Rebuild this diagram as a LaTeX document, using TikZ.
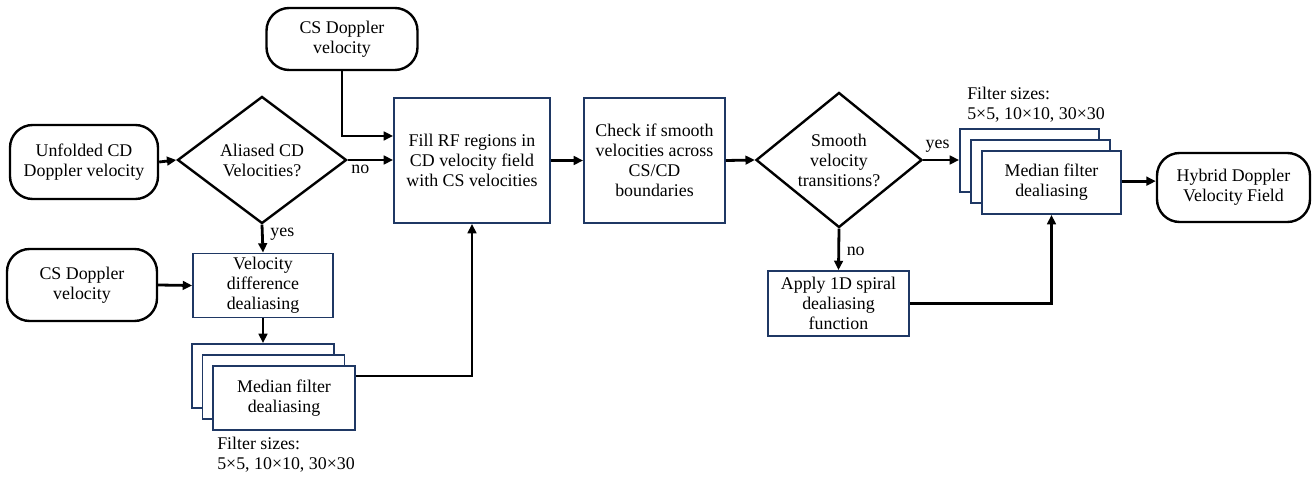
\documentclass[tikz,border=0pt]{standalone}
\usepackage{fontspec}
\setmainfont{Liberation Serif}
\usetikzlibrary{shapes.geometric,arrows.meta}
\definecolor{boxnavy}{RGB}{31,56,100}
\tikzset{
  base/.style={font=\fontsize{13.4}{15}\selectfont, align=center, inner sep=0pt},
  term/.style={base, draw=black, line width=1.8pt, rounded corners=17pt, fill=white},
  decision/.style={base, diamond, draw=black, line width=1.8pt, fill=white},
  proc/.style={base, draw=boxnavy, line width=1.4pt, fill=white},
  arr/.style={line width=2.1pt, -{Triangle[length=7pt,width=6.5pt]}},
  lbl/.style={font=\fontsize{13.4}{15}\selectfont, inner sep=0pt},
  note/.style={font=\fontsize{13.4}{15}\selectfont, align=left, inner sep=0pt, anchor=west}
}
\begin{document}
\begin{tikzpicture}[x=0.75pt,y=-0.75pt]
\useasboundingbox (0,0) rectangle (1315,481);
% terminals
\node[term, minimum width=113.25pt, minimum height=46.5pt] (cstop) at (342,39) {CS Doppler\\velocity};
\node[term, minimum width=111pt, minimum height=55.5pt] (unf) at (84,162) {Unfolded CD\\Doppler velocity};
\node[term, minimum width=112.5pt, minimum height=54pt] (cslow) at (82,285) {CS Doppler\\velocity};
\node[term, minimum width=114.75pt, minimum height=51.75pt] (hyb) at (1233.5,187.5) {Hybrid Doppler\\Velocity Field};
% decisions
\node[decision, minimum width=126.75pt, minimum height=95.25pt] (alias) at (262,160) {Aliased CD\\Velocities?};
\node[decision, minimum width=124.5pt, minimum height=96.75pt] (smooth) at (839,160) {Smooth\\velocity\\transitions?};
% processes
\node[proc, minimum width=117pt, minimum height=93.75pt] (fill) at (472,160.5) {Fill RF regions in\\CD velocity field\\with CS velocities};
\node[proc, minimum width=105.75pt, minimum height=93.75pt] (check) at (654.5,160.5) {Check if smooth\\velocities across\\CS/CD\\boundaries};
\node[proc, minimum width=105pt, minimum height=48pt] (veld) at (263,285.5) {Velocity\\difference\\dealiasing};
\node[proc, minimum width=105.75pt, minimum height=48.75pt] (apply) at (838.5,303.5) {Apply 1D spiral\\dealiasing\\function};
% left stack
\node[proc, minimum width=106.5pt, minimum height=48pt] (lback) at (263,376) {};
\node[proc, minimum width=106.5pt, minimum height=48pt] (lmid) at (273.5,387) {};
\node[proc, minimum width=106.5pt, minimum height=48pt] (lfront) at (284,398) {Median filter\\dealiasing};
% right stack
\node[proc, minimum width=104.25pt, minimum height=47.25pt] (rback) at (1029.5,160.5) {};
\node[proc, minimum width=104.25pt, minimum height=47.25pt] (rmid) at (1040.5,171.5) {};
\node[proc, minimum width=104.25pt, minimum height=47.25pt] (rfront) at (1051.5,182.5) {Median filter\\dealiasing};
% notes
\node[note] (lnote) at (217,455) {Filter sizes:\\5\texttimes5, 10\texttimes10, 30\texttimes30};
\node[note] (rnote) at (967,105) {Filter sizes:\\5\texttimes5, 10\texttimes10, 30\texttimes30};
% connectors
\draw[arr] (unf.east) -- (alias.west);
\draw[arr] (alias.east) -- (alias.east -| fill.west) node[lbl, pos=0.28, below=3pt] {no};
\draw[arr] (cstop.south) |- ([yshift=18.4pt]fill.west);
\draw[arr] (alias.south) -- (veld.north) node[lbl, pos=0.35, right=5pt] {yes};
\draw[arr] (cslow.east) -- (veld.west);
\draw[arr] (veld.south) -- (lback.north);
\draw[arr] ([yshift=16.5pt]lfront.east) -| (fill.south);
\draw[arr] (fill.east) -- (check.west);
\draw[arr] (check.east) -- (smooth.west);
\draw[arr] (smooth.east) -- (smooth.east -| rback.west) node[lbl, pos=0.4, above=5pt] {yes};
\draw[arr] (smooth.south) -- (apply.north) node[lbl, pos=0.55, right=5pt] {no};
\draw[arr] (apply.east) -| (rfront.south);
\draw[arr] ([yshift=1pt]rfront.east) -- ([yshift=1pt]rfront.east -| hyb.west);
\end{tikzpicture}
\end{document}
